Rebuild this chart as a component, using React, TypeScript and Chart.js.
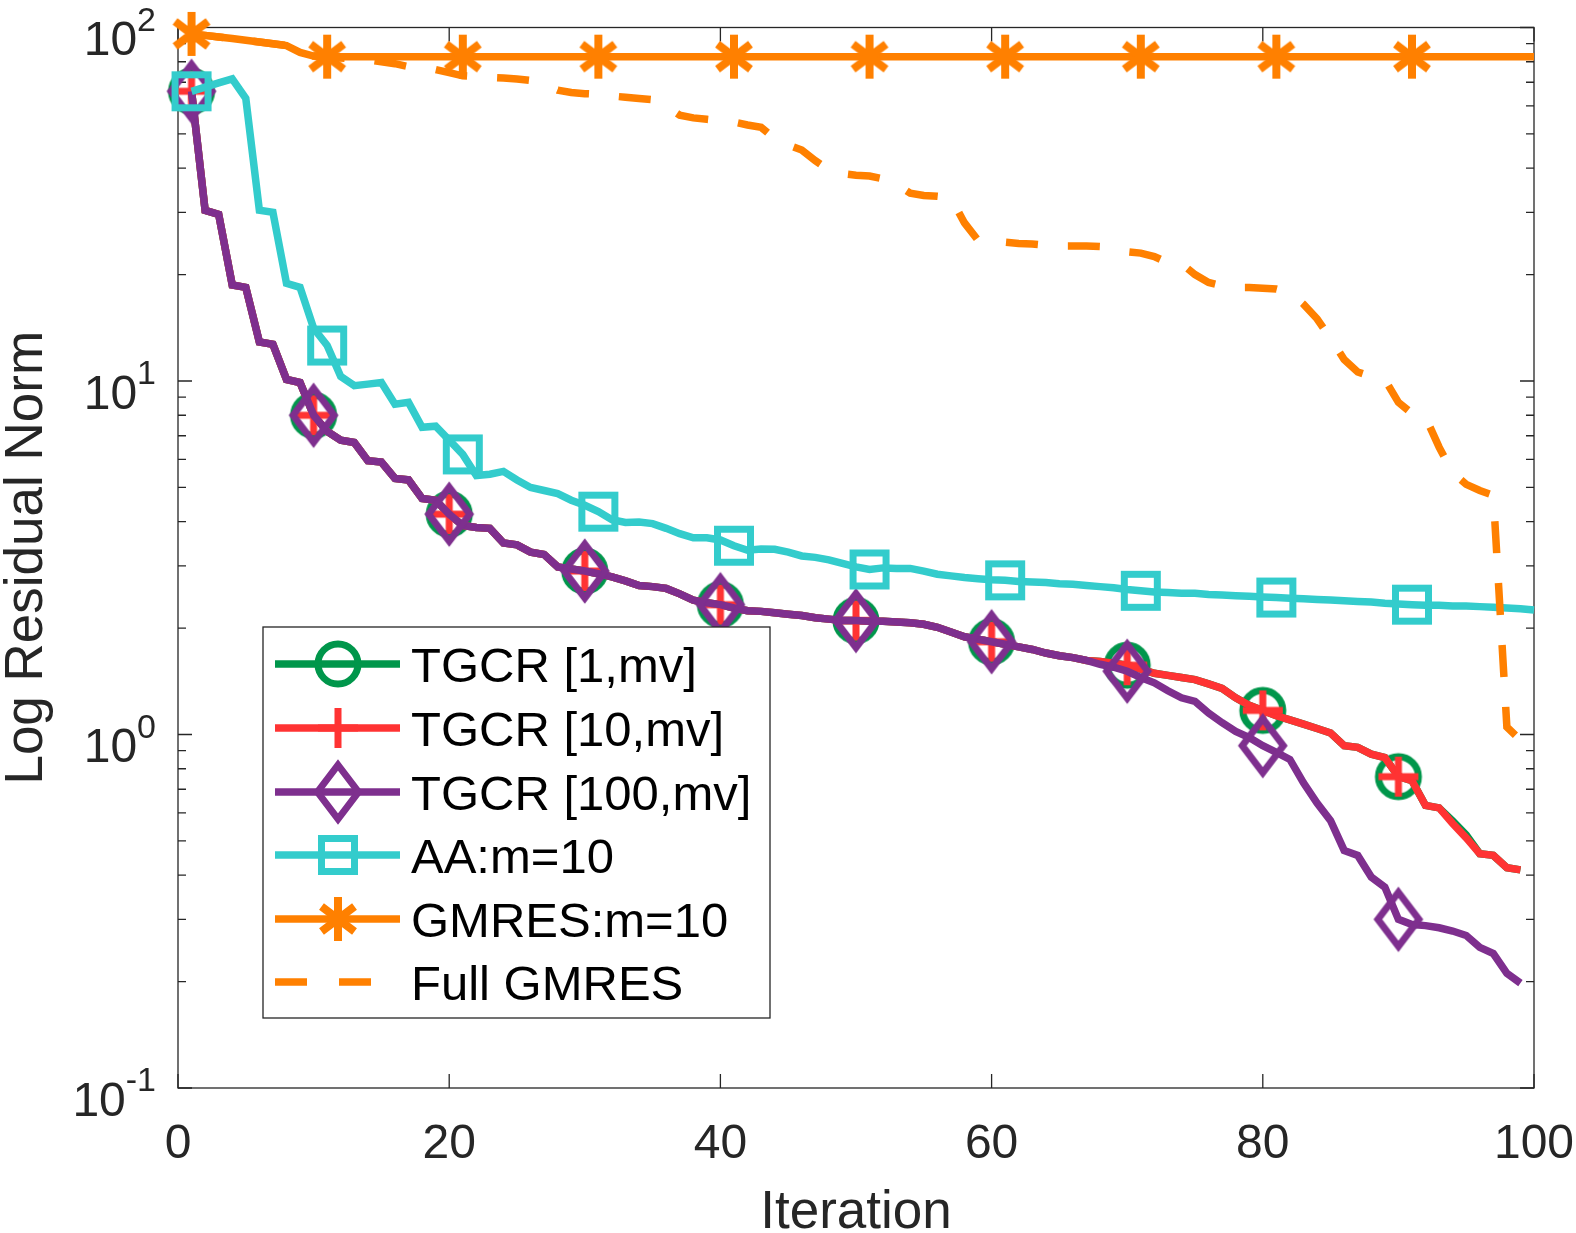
import React, { useEffect, useRef } from 'react';
import { Chart, registerables } from 'chart.js';

Chart.register(...registerables);

const FONT = '"Liberation Sans", Arial, Helvetica, sans-serif';
const AXIS_COLOR = '#262626';

const seriesLabels = ['TGCR [1,mv]', 'TGCR [10,mv]', 'TGCR [100,mv]', 'AA:m=10', 'GMRES:m=10', 'Full GMRES'];
const seriesColors = ['#00964B', '#FF3333', '#7E2F8E', '#33CCCC', '#FF8000', '#FF8000'];
const xTickValues = [0, 20, 40, 60, 80, 100];
const yTickExponents = [2, 1, 0, -1];
const xTitle = 'Iteration';
const yTitle = 'Log Residual Norm';

// TGCR: iterations 1..67 shared by all three variants
const tgcrShared = [
  66, 30.4, 29.6, 18.7, 18.4, 12.9, 12.7, 10.1, 9.9, 8.0,
  7.2, 6.8, 6.7, 5.95, 5.9, 5.3, 5.25, 4.65, 4.6, 4.2,
  3.9, 3.85, 3.83, 3.48, 3.44, 3.28, 3.23, 2.98, 2.94, 2.9,
  2.85, 2.79, 2.72, 2.64, 2.62, 2.59, 2.5, 2.4, 2.36, 2.33,
  2.28, 2.24, 2.23, 2.21, 2.19, 2.17, 2.14, 2.12, 2.1, 2.1,
  2.09, 2.09, 2.08, 2.07, 2.05, 2.01, 1.95, 1.89, 1.86, 1.83,
  1.8, 1.77, 1.74, 1.7, 1.67, 1.65, 1.62,
];
// iterations 68..99
const tgcr1Tail = [
  1.61, 1.59, 1.57, 1.53, 1.49, 1.47, 1.45, 1.43, 1.39, 1.35,
  1.27, 1.21, 1.17, 1.13, 1.1, 1.07, 1.04, 1.01, 0.93, 0.92,
  0.88, 0.86, 0.76, 0.74, 0.63, 0.62, 0.57, 0.52, 0.46, 0.455,
  0.42, 0.414,
];
const tgcr10Tail = [
  1.61, 1.59, 1.57, 1.53, 1.49, 1.47, 1.45, 1.43, 1.39, 1.35,
  1.27, 1.21, 1.17, 1.13, 1.1, 1.07, 1.04, 1.01, 0.93, 0.92,
  0.88, 0.86, 0.76, 0.74, 0.63, 0.62, 0.56, 0.51, 0.46, 0.455,
  0.42, 0.414,
];
const tgcr100Tail = [
  1.58, 1.55, 1.51, 1.45, 1.4, 1.33, 1.27, 1.24, 1.15, 1.08,
  1.02, 0.98, 0.93, 0.89, 0.85, 0.73, 0.64, 0.57, 0.47, 0.455,
  0.395, 0.37, 0.3, 0.29, 0.288, 0.284, 0.278, 0.27, 0.25, 0.24,
  0.211, 0.198,
];
// AA: iterations 1..100
const aaValues = [
  66, 67.8, 69.7, 71.6, 63, 30.4, 30.0, 18.9, 18.4, 14.1,
  12.6, 10.3, 9.7, 9.8, 9.9, 8.6, 8.7, 7.4, 7.45, 6.8,
  6.2, 5.4, 5.45, 5.55, 5.25, 5.0, 4.9, 4.8, 4.6, 4.45,
  4.27, 4.05, 3.98, 3.99, 3.95, 3.83, 3.7, 3.6, 3.6, 3.55,
  3.42, 3.32, 3.35, 3.34, 3.28, 3.2, 3.17, 3.12, 3.05, 2.98,
  2.93, 2.96, 2.95, 2.95, 2.9, 2.84, 2.81, 2.78, 2.76, 2.74,
  2.73, 2.71, 2.7, 2.69, 2.67, 2.66, 2.64, 2.62, 2.6, 2.57,
  2.55, 2.53, 2.52, 2.51, 2.51, 2.49, 2.48, 2.47, 2.46, 2.45,
  2.44, 2.43, 2.42, 2.41, 2.4, 2.39, 2.38, 2.37, 2.35, 2.34,
  2.33, 2.32, 2.32, 2.31, 2.31, 2.3, 2.29, 2.28, 2.27, 2.25,
];
// GMRES(10): sampled iterations
const gmresIters = [1, 2, 3, 4, 5, 6, 7, 8, 9, 10, 11, 21, 31, 41, 51, 61, 71, 81, 91, 100];
const gmresValues = [95.9, 95, 94, 93.1, 92, 91, 90, 88.9, 85, 83, 82.7, 82.7, 82.7, 82.7, 82.7, 82.7, 82.7, 82.7, 82.7, 82.7];
// Full GMRES: iterations 1..100
const fullGmresValues = [
  95.9, 95, 94, 93.1, 92, 91, 90, 88.9, 85, 83,
  82.5, 82, 81.5, 81, 80, 79, 77.5, 76.8, 76, 74.5,
  73, 72.6, 72.3, 72, 71.5, 70.8, 69, 66.5, 65.5, 65,
  64.7, 64, 63.5, 63, 62.5, 60, 56.5, 55.5, 55, 54.5,
  54, 53, 52.2, 48.5, 46.5, 45, 42, 39.5, 38.6, 38.2,
  38, 37.3, 36, 34, 33.5, 33.3, 33, 28, 25, 24.9,
  24.7, 24.5, 24.4, 24.2, 24.1, 24.1, 24.1, 24, 23.6, 23.2,
  23, 22.5, 21.6, 21.5, 20, 19, 18.6, 18.4, 18.4, 18.3,
  18.2, 17.8, 16.5, 15, 13.2, 11.5, 10.6, 10.3, 10.1, 8.7,
  8.1, 7.9, 6.5, 5.5, 5.1, 4.9, 4.75, 1.05, 0.965, 0.965,
];
const tgcrMarkerIters = [1, 10, 20, 30, 40, 50, 60, 70, 80, 90];
const aaMarkerIters = [1, 11, 21, 31, 41, 51, 61, 71, 81, 91];

type MarkerKind = 'circle' | 'plus' | 'diamond' | 'square' | 'star' | 'none';
const markerKinds: MarkerKind[] = ['circle', 'plus', 'diamond', 'square', 'star', 'none'];

function makeMarker(kind: MarkerKind, color: string): HTMLCanvasElement {
  const S = 72;
  const c = document.createElement('canvas');
  c.width = S;
  c.height = S;
  const g = c.getContext('2d')!;
  g.strokeStyle = color;
  g.lineWidth = kind === 'star' ? 8 : 7;
  g.lineJoin = 'miter';
  g.lineCap = 'butt';
  g.translate(S / 2, S / 2);
  g.beginPath();
  if (kind === 'circle') g.arc(0, 0, 20, 0, Math.PI * 2);
  if (kind === 'plus') {
    g.moveTo(-20, 0); g.lineTo(20, 0); g.moveTo(0, -20); g.lineTo(0, 20);
  }
  if (kind === 'diamond') {
    g.moveTo(0, -27); g.lineTo(20.5, 0); g.lineTo(0, 27); g.lineTo(-20.5, 0); g.closePath();
  }
  if (kind === 'square') g.rect(-16.5, -16.5, 33, 33);
  if (kind === 'star') {
    g.moveTo(0, -22); g.lineTo(0, 22);
    g.moveTo(-16.5, -12.5); g.lineTo(16.5, 12.5);
    g.moveTo(-16.5, 12.5); g.lineTo(16.5, -12.5);
  }
  g.stroke();
  return c;
}

function seq(vals: number[], start: number) {
  return vals.map((v, i) => ({ x: start + i, y: v }));
}

export default function App() {
  const ref = useRef<HTMLCanvasElement | null>(null);

  useEffect(() => {
    document.body.style.margin = '0';
    const canvas = ref.current!;
    const markers = seriesColors.map((c, i) => makeMarker(markerKinds[i], c));

    const tgcrSets = [tgcr1Tail, tgcr10Tail, tgcr100Tail].map((tail) => seq(tgcrShared.concat(tail), 1));
    const seriesData = [
      tgcrSets[0],
      tgcrSets[1],
      tgcrSets[2],
      seq(aaValues, 1),
      gmresIters.map((x, i) => ({ x, y: gmresValues[i] })),
      seq(fullGmresValues, 1),
    ];
    const markerIters = [tgcrMarkerIters, tgcrMarkerIters, tgcrMarkerIters, aaMarkerIters, aaMarkerIters, []];

    const datasets = seriesData.map((data, i) => ({
      label: seriesLabels[i],
      data,
      borderColor: seriesColors[i],
      backgroundColor: 'transparent',
      borderWidth: 7.5,
      borderDash: i === 5 ? [32, 30] : [],
      borderCapStyle: 'butt' as const,
      borderJoinStyle: 'miter' as const,
      tension: 0,
      fill: false,
      clip: false as any,
      pointStyle: markers[i] as any,
      pointRadius: data.map((p) => (markerIters[i].includes(p.x) ? 20 : 0)),
      pointHoverRadius: 0,
      order: 6 - i,
    }));

    const axesPlugin = {
      id: 'matlabAxes',
      beforeDatasetsDraw(chart: any) {
        const { ctx, chartArea: a, scales } = chart;
        const xs = scales.x;
        const ys = scales.y;
        ctx.save();
        ctx.strokeStyle = AXIS_COLOR;
        ctx.lineWidth = 1.3;
        ctx.beginPath();
        for (const v of xTickValues) {
          const px = xs.getPixelForValue(v);
          ctx.moveTo(px, a.bottom); ctx.lineTo(px, a.bottom - 14);
          ctx.moveTo(px, a.top); ctx.lineTo(px, a.top + 14);
        }
        for (const e of yTickExponents) {
          const py = ys.getPixelForValue(Math.pow(10, e));
          ctx.moveTo(a.left, py); ctx.lineTo(a.left + 14, py);
          ctx.moveTo(a.right, py); ctx.lineTo(a.right - 14, py);
          if (e < 2) {
            for (let m = 2; m <= 9; m++) {
              const pm = ys.getPixelForValue(m * Math.pow(10, e));
              ctx.moveTo(a.left, pm); ctx.lineTo(a.left + 8, pm);
              ctx.moveTo(a.right, pm); ctx.lineTo(a.right - 8, pm);
            }
          }
        }
        ctx.stroke();
        ctx.strokeRect(a.left, a.top, a.right - a.left, a.bottom - a.top);
        ctx.restore();
      },
      afterDatasetsDraw(chart: any) {
        const { ctx, chartArea: a, scales } = chart;
        const xs = scales.x;
        const ys = scales.y;
        ctx.save();
        // x tick labels
        ctx.fillStyle = AXIS_COLOR;
        ctx.font = `48px ${FONT}`;
        ctx.textAlign = 'center';
        ctx.textBaseline = 'alphabetic';
        for (const v of xTickValues) {
          ctx.fillText(String(v), xs.getPixelForValue(v), 1158);
        }
        // y tick labels with exponents
        const rightEdge = 156;
        for (const e of yTickExponents) {
          const py = ys.getPixelForValue(Math.pow(10, e));
          const expText = String(e);
          ctx.font = `34px ${FONT}`;
          const ew = ctx.measureText(expText).width;
          ctx.textAlign = 'left';
          ctx.fillText(expText, rightEdge - ew, py + 3);
          ctx.font = `48px ${FONT}`;
          ctx.textAlign = 'right';
          ctx.fillText('10', rightEdge - ew, py + 27.5);
        }
        // axis titles
        ctx.font = `53px ${FONT}`;
        ctx.textAlign = 'center';
        ctx.fillText(xTitle, (a.left + a.right) / 2, 1228);
        ctx.save();
        ctx.translate(42, (a.top + a.bottom) / 2);
        ctx.rotate(-Math.PI / 2);
        ctx.fillText(yTitle, 0, 0);
        ctx.restore();

        // legend
        const bx = 263, by = 627, bw = 507, bh = 391;
        ctx.fillStyle = '#ffffff';
        ctx.fillRect(bx, by, bw, bh);
        ctx.strokeStyle = AXIS_COLOR;
        ctx.lineWidth = 1.3;
        ctx.strokeRect(bx, by, bw, bh);
        const rows = [664, 728, 792, 855, 919, 982];
        for (let i = 0; i < seriesLabels.length; i++) {
          const ry = rows[i];
          ctx.save();
          ctx.strokeStyle = seriesColors[i];
          ctx.lineWidth = 7.5;
          ctx.lineCap = 'butt';
          ctx.setLineDash(i === 5 ? [32, 32] : []);
          ctx.beginPath();
          ctx.moveTo(275, ry);
          ctx.lineTo(400, ry);
          ctx.stroke();
          ctx.restore();
          if (markerKinds[i] !== 'none') {
            const m = markers[i];
            ctx.drawImage(m, 338 - m.width / 2, ry - m.height / 2);
          }
          ctx.fillStyle = '#000000';
          ctx.font = `49px ${FONT}`;
          ctx.textAlign = 'left';
          ctx.fillText(seriesLabels[i], 411, ry + 18);
        }
        ctx.restore();
      },
    };

    const chart = new Chart(canvas, {
      type: 'line',
      data: { datasets: datasets as any },
      options: {
        animation: false,
        responsive: false,
        devicePixelRatio: 1,
        events: [],
        layout: { padding: { left: 178, right: 42, top: 27, bottom: 145 } },
        scales: {
          x: { type: 'linear', min: 0, max: 100, display: false },
          y: { type: 'logarithmic', min: 0.1, max: 100, display: false },
        },
        plugins: { legend: { display: false }, tooltip: { enabled: false } },
      },
      plugins: [axesPlugin],
    });
    return () => chart.destroy();
  }, []);

  return (
    <div style={{ width: 1576, height: 1233, background: '#ffffff' }}>
      <canvas ref={ref} width={1576} height={1233} style={{ display: 'block', width: 1576, height: 1233 }} />
    </div>
  );
}
